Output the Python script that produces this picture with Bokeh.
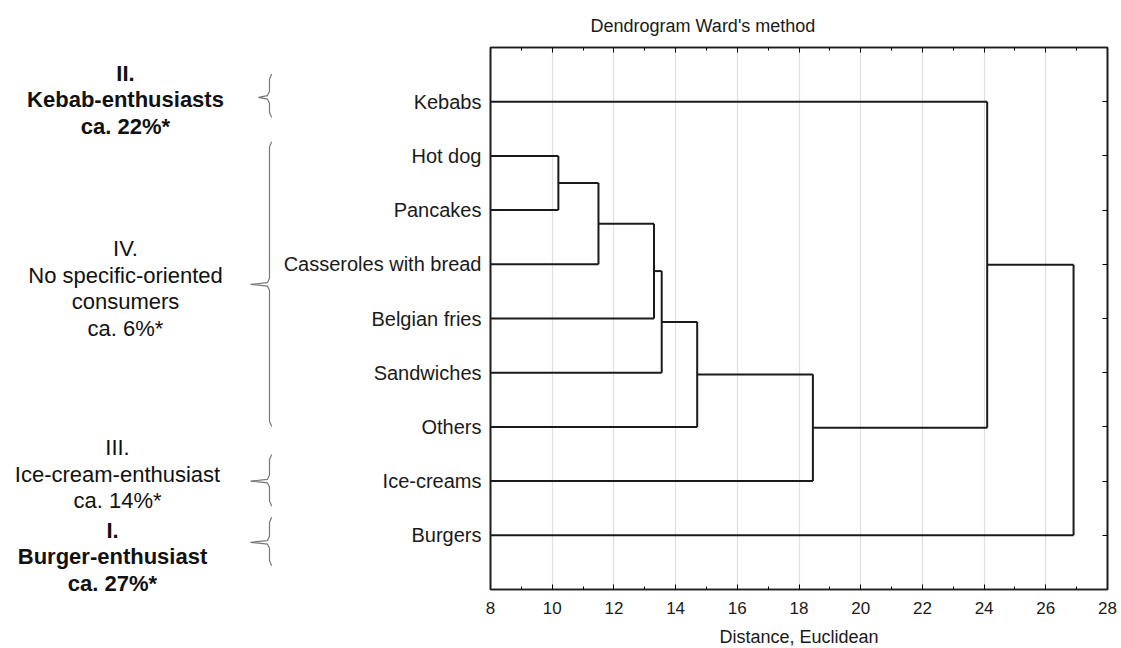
from bokeh.plotting import figure
from bokeh.layouts import row
from bokeh.models import Range1d, FixedTicker, LinearAxis
from bokeh.core.properties import value
from bokeh.embed import file_html
from bokeh.resources import INLINE

# ---------------- data ----------------
leaves = ["Kebabs", "Hot dog", "Pancakes", "Casseroles with bread", "Belgian fries",
          "Sandwiches", "Others", "Ice-creams", "Burgers"]
# merges: (cluster a, cluster b, linkage distance); new clusters numbered from len(leaves)
merge_a = [1, 9, 10, 11, 12, 13, 0, 15]
merge_b = [2, 3, 4, 5, 6, 7, 14, 8]
merge_dist = [10.2, 11.5, 13.3, 13.55, 14.7, 18.45, 24.1, 26.9]

x_ticks = [8, 10, 12, 14, 16, 18, 20, 22, 24, 26, 28]
x_minor = [9, 11, 13, 15, 17, 19, 21, 23, 25, 27]

group_lines = [["II.", "Kebab-enthusiasts", "ca. 22%*"],
               ["IV.", "No specific-oriented", "consumers", "ca. 6%*"],
               ["III.", "Ice-cream-enthusiast", "ca. 14%*"],
               ["I.", "Burger-enthusiast", "ca. 27%*"]]
group_bold = [True, False, False, True]

# ---------------- layout constants ----------------
FONT = "Liberation Sans"
FRAME_W, FRAME_H = 617, 542
TOP, BOT = 47, 59
LEFT_W = 272
PX = FRAME_H / 10.0  # px per y data unit

n = len(leaves)
leaf_y = {i: n - i for i in range(n)}   # Kebabs at top (9), Burgers at bottom (1)
node_x = {i: 8 for i in range(n)}
node_y = dict(leaf_y)

xs, ys = [], []
for k, (a, b, d) in enumerate(zip(merge_a, merge_b, merge_dist)):
    c = n + k
    for ch in (a, b):
        xs.append([node_x[ch], d]); ys.append([node_y[ch], node_y[ch]])
    xs.append([d, d]); ys.append([node_y[a], node_y[b]])
    node_x[c] = d
    node_y[c] = (node_y[a] + node_y[b]) / 2.0

p = figure(frame_width=FRAME_W, frame_height=FRAME_H, x_range=Range1d(8, 28), y_range=Range1d(0, 10),
           output_backend="svg", toolbar_location=None,
           min_border_left=490 - LEFT_W, min_border_right=10, min_border_top=TOP, min_border_bottom=BOT)
p.background_fill_color = "white"
p.border_fill_color = "white"
p.outline_line_color = "#1e1e1e"
p.outline_line_width = 1.6

p.title.text = "Dendrogram Ward's method"
p.title.text_font = FONT
p.title.text_font_size = "18px"
p.title.text_font_style = "normal"
p.title.text_color = "#1a1a1a"
p.title.align = "left"
p.title.offset = 100
p.title.standoff = 24

p.multi_line(xs, ys, line_color="#1a1a1a", line_width=2)

# bottom axis
xa = p.xaxis[0]
xa.ticker = FixedTicker(ticks=x_ticks, minor_ticks=x_minor)
xa.major_tick_in = 5; xa.major_tick_out = 0
xa.minor_tick_in = 3; xa.minor_tick_out = 0
xa.major_label_text_font = FONT
xa.major_label_text_font_size = "17px"
xa.major_label_text_color = "#1a1a1a"
xa.major_label_standoff = 12
xa.axis_label = "Distance, Euclidean"
xa.axis_label_text_font = FONT
xa.axis_label_text_font_size = "18px"
xa.axis_label_text_font_style = "normal"
xa.axis_label_text_color = "#1a1a1a"
xa.axis_label_standoff = 10
xa.axis_line_color = "#1e1e1e"; xa.axis_line_width = 1.6

# left axis with leaf names
ya = p.yaxis[0]
ya.ticker = FixedTicker(ticks=[leaf_y[i] for i in range(n)])
ya.major_label_overrides = {leaf_y[i]: leaves[i] for i in range(n)}
ya.major_tick_in = 0; ya.major_tick_out = 0
ya.minor_tick_in = 0; ya.minor_tick_out = 0
ya.major_label_text_font = FONT
ya.major_label_text_font_size = "20px"
ya.major_label_text_color = "#1a1a1a"
ya.major_label_standoff = 9
ya.axis_line_color = "#1e1e1e"; ya.axis_line_width = 1.6

# top axis (ticks only)
ta = LinearAxis(ticker=FixedTicker(ticks=x_ticks, minor_ticks=x_minor),
                major_tick_in=5, major_tick_out=0, minor_tick_in=3, minor_tick_out=0,
                major_label_text_color=None, major_label_text_font_size="2px", major_label_standoff=0,
                axis_line_color="#1e1e1e", axis_line_width=1.6)
p.add_layout(ta, "above")
# right axis (ticks only)
ra = LinearAxis(ticker=FixedTicker(ticks=[leaf_y[i] for i in range(n)]),
                major_tick_in=5, major_tick_out=0, minor_tick_in=0, minor_tick_out=0,
                major_label_text_color=None, major_label_text_font_size="2px", major_label_standoff=0,
                axis_line_color="#1e1e1e", axis_line_width=1.6)
p.add_layout(ra, "right")

p.ygrid.grid_line_color = None
p.xgrid.grid_line_color = "#e0e0e0"
p.xgrid.grid_line_width = 1.2

# ---------------- left panel: cluster groups ----------------
# its frame top is aligned with the dendrogram frame top by the row layout
LEFT_FRAME_H = 640 - TOP
lf = figure(frame_width=LEFT_W, frame_height=LEFT_FRAME_H,
            x_range=Range1d(0, LEFT_W), y_range=Range1d(10 - LEFT_FRAME_H / PX, 10),
            output_backend="svg", toolbar_location=None,
            min_border_left=0, min_border_right=0, min_border_top=TOP, min_border_bottom=0)
lf.axis.visible = False
lf.grid.grid_line_color = None
lf.outline_line_color = None
lf.background_fill_color = "white"
lf.border_fill_color = "white"

# group annotation geometry (y in data units of the dendrogram, x in px of this panel)
grp_cx = [125, 125, 117, 112]
grp_cy = [9.04, 5.55, 2.13, 0.60]
brace_top = [9.53, 8.28, 2.51, 1.35]
brace_tip = [9.08, 5.63, 2.00, 0.87]
brace_bot = [8.69, 2.99, 1.52, 0.42]
brace_tipx = [258, 250, 250, 250]
BR_X, BR_END = 269, 275
LSTEP = 26.5 / PX

for lines, bold, cx, cy in zip(group_lines, group_bold, grp_cx, grp_cy):
    m = len(lines)
    ly = [cy + ((m - 1) / 2.0 - i) * LSTEP for i in range(m)]
    lf.text(x=[cx] * m, y=ly, text=lines, text_align="center", text_baseline="middle",
            text_font=value(FONT), text_font_size="22px",
            text_font_style="bold" if bold else "normal", text_color="#111111")

r = 6 / PX  # corner radius in data units (y)
bxs, bys = [], []
for t, tip, b, tx in zip(brace_top, brace_tip, brace_bot, brace_tipx):
    bxs.append([BR_END, BR_X + 2, BR_X, BR_X, BR_X - 2, tx, BR_X - 2, BR_X, BR_X, BR_X + 2, BR_END])
    bys.append([t, t - r * 0.25, t - r, tip + r, tip + r * 0.3, tip, tip - r * 0.3, tip - r,
                b + r, b + r * 0.25, b])
lf.multi_line(bxs, bys, line_color="#777777", line_width=1.2)

layout = row(lf, p)
open("out.html", "w").write(file_html(layout, INLINE))
